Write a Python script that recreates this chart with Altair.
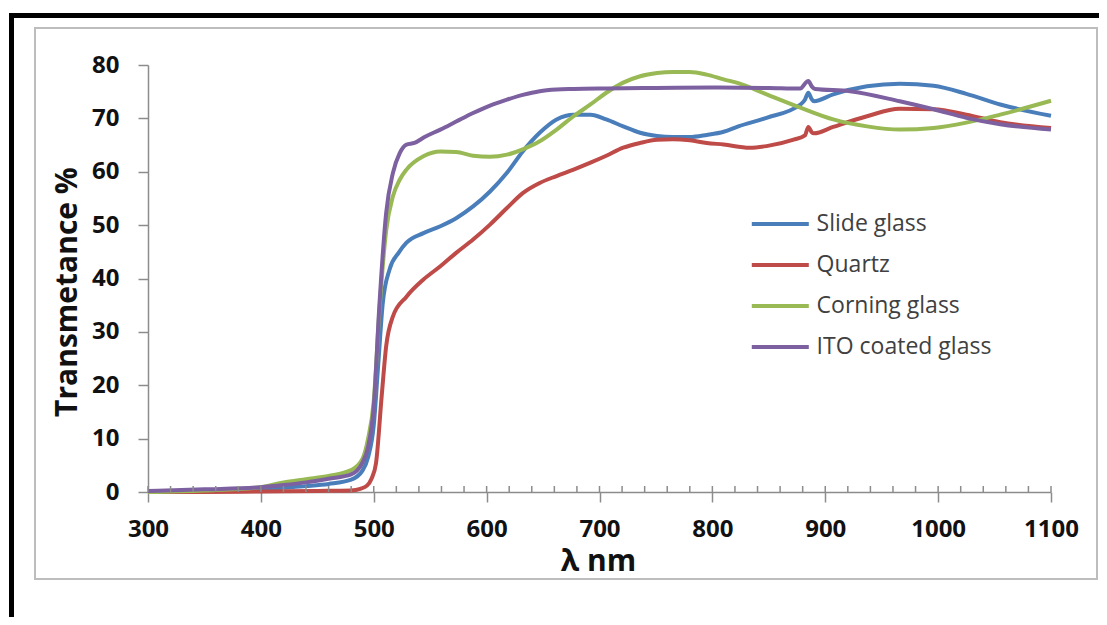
import altair as alt
import pandas as pd

series_names = ["Slide glass", "Quartz", "Corning glass", "ITO coated glass"]
series_colors = ["#4A7EBB", "#BE4B48", "#98B954", "#7D60A0"]

slide_wl = [300, 350, 400, 420, 440, 460, 480, 490, 495, 500, 504, 508, 514, 522, 529, 544, 559, 573, 588, 603,
            618, 632, 647, 662, 677, 692, 706, 721, 736, 751, 765, 780, 795, 810, 823, 848, 878, 882, 885, 888,
            890, 907, 937, 966, 996, 1025, 1055, 1100]
slide_t = [0.1, 0.2, 0.5, 0.8, 1.1, 1.5, 2.3, 4.0, 6.5, 12.5, 24.0, 35.4, 41.7, 44.8, 46.7, 48.5, 49.8, 51.3, 53.5, 56.3,
           59.8, 63.8, 67.3, 69.8, 70.7, 70.7, 69.8, 68.5, 67.3, 66.7, 66.5, 66.5, 66.9, 67.5, 68.5, 70.1, 72.6, 73.5, 74.8, 73.6,
           73.2, 74.5, 76.0, 76.5, 76.1, 74.6, 72.6, 70.5]

quartz_wl = [300, 350, 400, 450, 480, 488, 494, 498, 502, 507, 511, 517, 529, 544, 559, 573, 588, 603, 618, 632,
             647, 662, 677, 692, 706, 721, 736, 751, 765, 780, 795, 810, 833, 848, 872, 882, 885, 888, 890, 907,
             937, 966, 996, 1025, 1055, 1100]
quartz_t = [0.0, 0.0, 0.1, 0.2, 0.3, 0.6, 1.2, 2.5, 5.4, 17.9, 27.3, 32.9, 36.6, 39.8, 42.3, 44.8, 47.3, 50.1, 53.2, 56.0,
            57.9, 59.2, 60.4, 61.7, 63.0, 64.5, 65.4, 66.0, 66.1, 65.9, 65.4, 65.1, 64.5, 64.8, 66.0, 66.8, 68.4, 67.4, 67.2, 68.4,
            70.4, 71.8, 71.7, 70.7, 69.3, 68.2]

corning_wl = [300, 350, 400, 420, 440, 460, 480, 490, 495, 500, 505, 511, 517, 523, 529, 544, 559, 573, 588, 603,
              618, 632, 647, 662, 677, 692, 706, 721, 736, 751, 765, 780, 795, 810, 823, 848, 878, 907, 937, 966,
              996, 1025, 1055, 1100]
corning_t = [0.0, 0.3, 0.9, 1.8, 2.4, 3.0, 4.1, 6.2, 10.0, 17.0, 34.0, 49.0, 55.4, 58.5, 60.4, 62.9, 63.8, 63.7, 63.0, 62.8,
             63.2, 64.2, 65.7, 67.9, 70.4, 72.6, 74.8, 76.7, 77.9, 78.5, 78.7, 78.7, 78.2, 77.3, 76.6, 74.5, 72.0, 69.8, 68.5, 67.9,
             68.2, 69.2, 70.7, 73.3]

ito_wl = [300, 350, 400, 420, 440, 460, 480, 490, 495, 500, 505, 511, 517, 523, 529, 536, 545, 559, 573, 588,
          603, 618, 632, 647, 662, 677, 706, 750, 800, 850, 878, 882, 885, 888, 891, 922, 966, 996, 1025, 1055, 1100]
ito_t = [0.2, 0.5, 0.9, 1.3, 1.8, 2.5, 3.3, 5.5, 8.5, 16.0, 35.0, 52.3, 59.8, 63.5, 65.1, 65.4, 66.5, 67.9, 69.4, 71.0,
         72.4, 73.5, 74.4, 75.1, 75.4, 75.5, 75.6, 75.7, 75.8, 75.7, 75.6, 76.5, 77.0, 76.0, 75.5, 75.1, 73.2, 71.7, 70.1, 68.9, 67.9]

x_major_ticks = [300, 400, 500, 600, 700, 800, 900, 1000, 1100]
y_major_ticks = [0, 10, 20, 30, 40, 50, 60, 70, 80]
minor_ticks = list(range(300, 1101, 20))

rows = []
for name, wl, tv in zip(series_names, [slide_wl, quartz_wl, corning_wl, ito_wl], [slide_t, quartz_t, corning_t, ito_t]):
    for w, t in zip(wl, tv):
        rows.append({"series": name, "wl": w, "T": t})
df = pd.DataFrame(rows)

W, H = 903, 427
xscale = alt.Scale(domain=[300, 1100], nice=False, zero=False)
yscale = alt.Scale(domain=[0, 80], nice=False)

x_axis = alt.Axis(values=x_major_ticks, format="d", grid=False,
                  domainColor="#8C8C8C", domainWidth=1.5, tickColor="#8C8C8C", tickWidth=1.5, tickSize=10,
                  labelFont="Open Sans", labelFontWeight="bold", labelFontSize=24, labelColor="#111111",
                  labelBaseline="alphabetic", labelPadding=34, labelFlush=False,
                  titleFont="Open Sans", titleFontWeight="bold", titleFontSize=30, titleColor="#111111",
                  titleBaseline="alphabetic", titleX=450, titleY=78, titleAnchor="middle")
y_axis = alt.Axis(values=y_major_ticks, format="d", grid=False,
                  domainColor="#8C8C8C", domainWidth=1.5, tickColor="#8C8C8C", tickWidth=1.5, tickSize=10,
                  labelFont="Open Sans", labelFontWeight="bold", labelFontSize=24, labelColor="#111111",
                  labelPadding=19, labelFlush=False,
                  titleFont="Open Sans", titleFontWeight="bold", titleFontSize=30, titleColor="#111111",
                  titleBaseline="alphabetic", titleX=-72, titleY=226.5, titleAngle=270, titleAnchor="middle")

one = pd.DataFrame({"a": [0]})

black_frame = alt.Chart(one).mark_rect(fill="transparent", stroke="#000000", strokeWidth=5).encode(
    x=alt.value(-136.5), x2=alt.value(1100), y=alt.value(-49.5), y2=alt.value(700)
)
gray_frame = alt.Chart(one).mark_rect(fill="transparent", stroke="#BDBDBD", strokeWidth=2).encode(
    x=alt.value(-113), x2=alt.value(949), y=alt.value(-37), y2=alt.value(514)
)

lines = alt.Chart(df).mark_line(strokeWidth=4, interpolate="monotone").encode(
    x=alt.X("wl:Q", scale=xscale, title="λ nm", axis=x_axis),
    y=alt.Y("T:Q", scale=yscale, title="Transmetance %", axis=y_axis),
    color=alt.Color("series:N", scale=alt.Scale(domain=series_names, range=series_colors),
                    legend=alt.Legend(title=None, orient="none", legendX=643.6, legendY=147.5,
                                      symbolType="M-9,0H1", symbolSize=130, symbolStrokeWidth=4,
                                      labelFont="Open Sans", labelFontSize=23, labelColor="#404040",
                                      labelOffset=2, rowPadding=17, padding=0, labelLimit=400)),
    order=alt.Order("series_order:Q")
).transform_calculate(
    series_order="indexof(['Slide glass','Quartz','Corning glass','ITO coated glass'], datum.series)"
)

minor = alt.Chart(pd.DataFrame({"wl": minor_ticks})).mark_rule(color="#8C8C8C", strokeWidth=1.5).encode(
    x=alt.X("wl:Q", scale=xscale, title="λ nm", axis=x_axis),
    y=alt.value(H - 6), y2=alt.value(H)
)

chart = alt.layer(black_frame, gray_frame, lines, minor).properties(
    width=W, height=H,
    autosize=alt.AutoSizeParams(type="none"),
    padding={"left": 140, "top": 57, "right": 48, "bottom": 125},
    background="white"
).configure_view(stroke=None)

chart.save("out.html", embed_options={"renderer": "svg", "actions": False})
